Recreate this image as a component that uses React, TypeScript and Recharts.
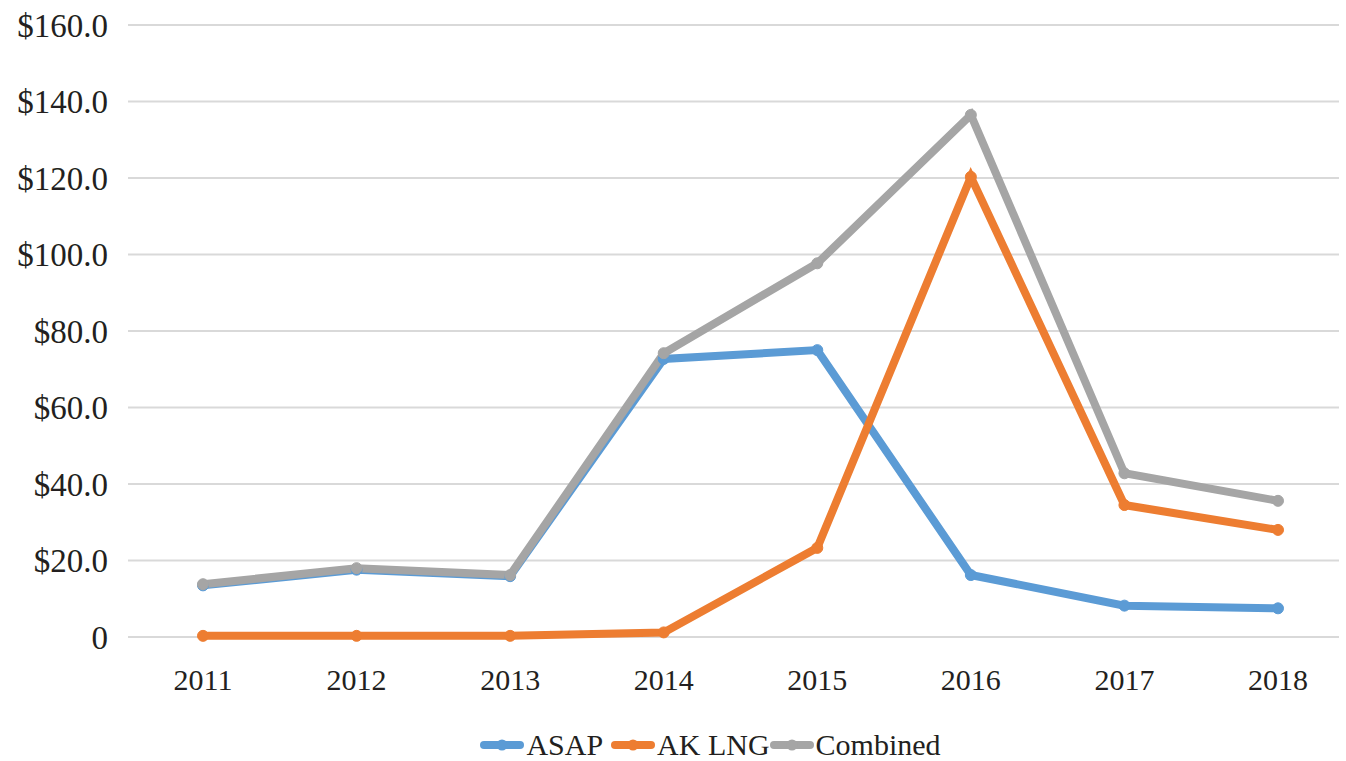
import React from 'react';
import { LineChart, Line, XAxis, YAxis, CartesianGrid, Legend } from 'recharts';

const years = ['2011', '2012', '2013', '2014', '2015', '2016', '2017', '2018'];
const asap = [13.5, 17.6, 15.9, 72.7, 75.0, 16.2, 8.2, 7.5];
const akLng = [0.3, 0.3, 0.3, 1.2, 23.3, 120.3, 34.5, 28.0];
const combined = [13.8, 18.0, 16.2, 74.2, 97.7, 136.5, 42.8, 35.6];
const yTicks = [0, 20, 40, 60, 80, 100, 120, 140, 160];

const seriesNames = ['ASAP', 'AK LNG', 'Combined'];
const seriesColors = ['#5B9BD5', '#ED7D31', '#A5A5A5'];

const data = years.map((y, i) => ({ year: y, asap: asap[i], akLng: akLng[i], combined: combined[i] }));

const FONT = '"Liberation Serif", "DejaVu Serif", serif';

const fmt = (v: number) => (v === 0 ? '0' : '$' + v.toFixed(1));

const LegendContent = () => (
  <div style={{ display: 'flex', justifyContent: 'center', alignItems: 'center', height: 40, boxSizing: 'border-box', paddingTop: 8, fontFamily: FONT, fontSize: 30, color: '#231f20', paddingLeft: 82 }}>
    {seriesNames.map((n, i) => (
      <div key={n} style={{ display: 'flex', alignItems: 'center', marginRight: i === 0 ? 8 : 0 }}>
        <svg width={44} height={14} style={{ marginRight: 2 }}>
          <line x1={4} y1={7} x2={40} y2={7} stroke={seriesColors[i]} strokeWidth={8} strokeLinecap="round" />
          <circle cx={22} cy={7} r={5.5} fill={seriesColors[i]} />
        </svg>
        <span>{n}</span>
      </div>
    ))}
  </div>
);

export default function App() {
  return (
    <div style={{ position: 'absolute', left: 0, top: 0, width: 1346, height: 761, background: '#fff' }}>
      <LineChart width={1346} height={761} data={data} margin={{ top: 25, right: 7, left: 0, bottom: 0 }}>
        <CartesianGrid horizontal vertical={false} stroke="#d9d9d9" strokeWidth={2} />
        <XAxis
          dataKey="year"
          axisLine={false}
          tickLine={false}
          tickSize={0}
          tickMargin={32}
          height={84}
          padding={{ left: 75, right: 61 }}
          tick={{ fontFamily: FONT, fontSize: 30, fill: '#231f20' }}
          interval={0}
        />
        <YAxis
          domain={[0, 160]}
          ticks={yTicks}
          tickFormatter={fmt}
          axisLine={false}
          tickLine={false}
          tickSize={0}
          tickMargin={20}
          width={128}
          tick={{ fontFamily: FONT, fontSize: 33, fill: '#231f20' }}
          interval={0}
        />
        <Legend verticalAlign="bottom" align="center" height={40} content={<LegendContent />} />
        <Line type="linear" dataKey="asap" name="ASAP" stroke={seriesColors[0]} strokeWidth={8} dot={{ r: 5.5, fill: seriesColors[0], stroke: seriesColors[0], strokeWidth: 1 }} isAnimationActive={false} />
        <Line type="linear" dataKey="akLng" name="AK LNG" stroke={seriesColors[1]} strokeWidth={8} dot={{ r: 5.5, fill: seriesColors[1], stroke: seriesColors[1], strokeWidth: 1 }} isAnimationActive={false} />
        <Line type="linear" dataKey="combined" name="Combined" stroke={seriesColors[2]} strokeWidth={8} dot={{ r: 5.5, fill: seriesColors[2], stroke: seriesColors[2], strokeWidth: 1 }} isAnimationActive={false} />
      </LineChart>
    </div>
  );
}
